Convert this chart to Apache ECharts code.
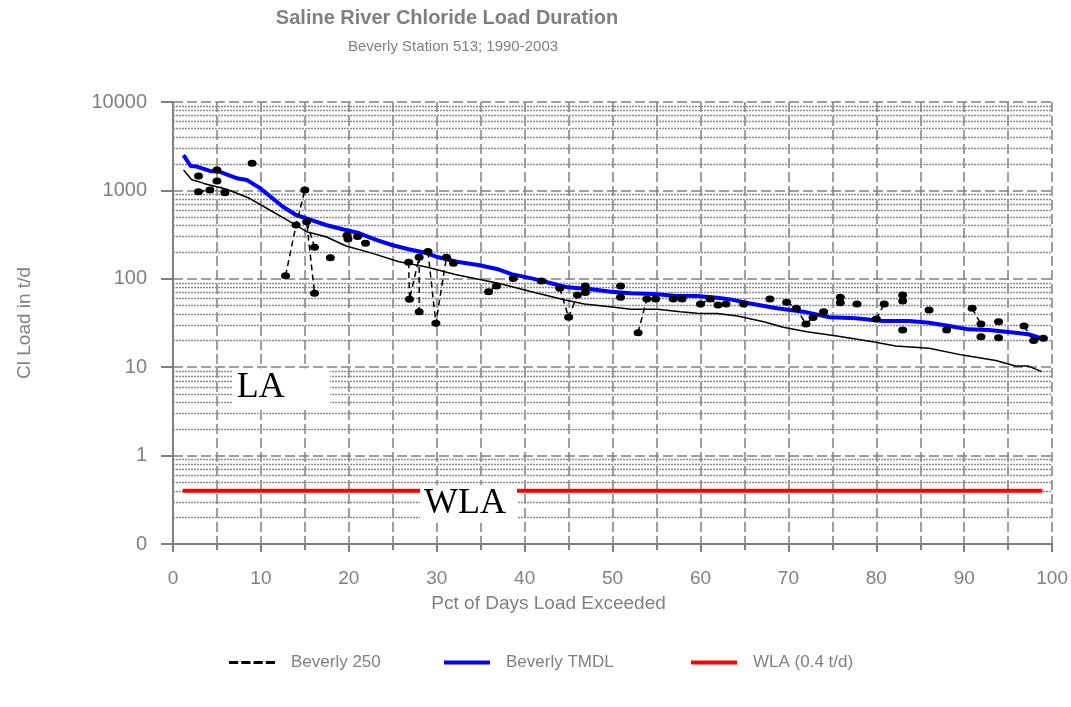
<!DOCTYPE html>
<html>
<head>
<meta charset="utf-8">
<script src="https://cdn.jsdelivr.net/npm/echarts@6/dist/echarts.min.js"></script>
<style>html,body{margin:0;padding:0;background:#fff}#c{width:1071px;height:707px}</style>
</head>
<body>
<div id="c"></div>
<script>
const titleText = 'Saline River Chloride Load Duration';
const subtitleText = 'Beverly Station 513; 1990-2003';
const xName = 'Pct of Days Load Exceeded';
const yName = 'Cl Load in t/d';
const yTickValues = [0.1, 1, 10, 100, 1000, 10000];
const yTickLabels = ['0', '1', '10', '100', '1000', '10000'];
const minorMultipliers = [2, 3, 4, 5, 6, 7, 8, 9];
const seriesNames = ['Beverly 250', 'Beverly TMDL', 'WLA (0.4 t/d)'];

// Beverly TMDL (blue)
const tmdlPct = [1.2, 2.0, 2.7, 4.2, 5.2, 6.3, 7.4, 8.4, 9.9, 11.0, 12.5, 14.0, 15.5, 17.4, 19.3, 21.2, 23.1, 24.9, 26.8, 28.7, 30.2, 32.3, 34.7, 37.0, 38.5, 40.8, 43.0, 44.9, 47.6, 49.8, 52.1, 54.7, 57.0, 59.6, 61.9, 63.4, 65.5, 68.7, 71.7, 74.7, 77.7, 80.7, 83.7, 86.0, 88.3, 90.5, 92.8, 95.8, 97.3, 98.8];
const tmdlLoad = [2510, 1890, 1860, 1660, 1640, 1490, 1360, 1310, 1060, 865, 654, 527, 471, 406, 363, 327, 275, 241, 216, 197, 175, 156, 143, 128, 113, 101, 89, 80, 76, 71.5, 68.5, 67.3, 64.4, 64, 61, 58.5, 53, 46.4, 42.5, 36.7, 35.7, 33.3, 33.3, 31.9, 29.2, 26.8, 26.4, 24.6, 23.6, 21.2];

// thin black duration curve
const trendPct = [1.2, 2.1, 3.5, 6.1, 8.7, 11.0, 13.3, 15.2, 17.4, 19.7, 22.7, 25.7, 28.7, 29.5, 32.1, 37.0, 40.8, 44.6, 46.8, 50.2, 52.1, 55.1, 57.7, 59.6, 61.9, 64.2, 67.2, 69.4, 72.1, 75.5, 79.6, 82.2, 86.0, 89.8, 93.6, 95.8, 97.3, 98.8];
const trendLoad = [1700, 1330, 1200, 1030, 814, 600, 443, 341, 299, 235, 194, 156, 137, 131, 112, 89, 71.5, 57.5, 51.9, 47.6, 45.2, 45.2, 42.5, 40.7, 40.5, 37.9, 32.7, 28.3, 25.2, 22.5, 19.4, 17.4, 16.4, 13.7, 11.9, 10.3, 10.3, 8.9];

// Beverly 250 observations (null = break in the dashed line)
const b250Pct = [
  2.9, null, 2.9, 4.2, 5.0, 5.9, null, 5.0, null, 9.0, null,
  12.8, 14.0, 15.0, null, 16.1, 15.2, 16.1, null, 17.9, null,
  19.8, 19.9, 21.0, 21.9, null,
  26.8, 26.9, 28.0, 28.0, null, 29.0, 29.9, 31.1, 31.9, null,
  35.9, 36.8, null, 38.7, null, 41.9, null,
  44.0, 45.0, 46.0, 46.9, 46.9, null,
  50.9, null, 50.9, null, 52.9, 53.9, null, 54.9, null, 56.9, 57.9, null,
  60.0, 61.1, 62.0, 62.9, null, 64.9, null, 67.9, null,
  69.8, 70.9, 72.0, 72.8, 74.0, null,
  75.9, null, 75.9, null, 77.8, null, 80.0, 80.9, null,
  83.0, null, 83.0, null, 83.0, null, 86.0, null, 88.0, null,
  90.9, 91.9, null, 91.9, null, 93.9, null, 93.9, null, 96.8, 97.9, 99.0
];
const b250Load = [
  1455, null, 968, 1010, 1280, 942, null, 1700, null, 2030, null,
  108, 406, 1010, null, 227, 443, 68.5, null, 173, null,
  310, 282, 300, 252, null,
  154, 58.6, 175, 42.5, null, 203, 31.4, 175, 150, null,
  71.5, 83, null, 101, null, 94.5, null,
  78, 36.7, 65.6, 70, 83, null,
  83, null, 61.8, null, 24.6, 59, null, 59, null, 59, 59, null,
  51.9, 59, 50.6, 52, null, 52, null, 59, null,
  54.2, 46.4, 30.8, 36.6, 42.5, null,
  61.8, null, 53.7, null, 51.9, null, 35, 51.9, null,
  65.6, null, 56, null, 26.4, null, 44.4, null, 26.4, null,
  46.4, 30.8, null, 22.1, null, 32.7, null, 21.6, null, 29.2, 20, 21.2
];

// WLA
const wlaPct = [1.1, 98.9];
const wlaLoad = [0.4, 0.4];

// text annotations (box left edge pct, vertical centre load)
const annotations = [
  { name: 'LA', pct: 6.8, load: 5.9 },
  { name: 'WLA', pct: 28.1, load: 0.284 }
];

const GREY = '#808080';
const SANS = '"Liberation Sans", Arial, sans-serif';

const pairs = (xs, ys) => xs.map((x, i) => (x == null || ys[i] == null) ? ['-', '-'] : [x, ys[i]]);

const minorVals = [];
yTickValues.slice(0, -1).forEach(d => minorMultipliers.forEach(k => minorVals.push(+(k * d).toPrecision(3))));

const chart = echarts.init(document.getElementById('c'), null, { renderer: 'canvas' });

const dashIcon = 'path://M0,0h9v3h-9z M12,0h9v3h-9z M24,0h9v3h-9z M36,0h9v3h-9z';
const solidIcon = 'path://M0,0h45v4h-45z';
const legendBase = {
  orient: 'horizontal', top: 654, itemWidth: 46, selectedMode: false,
  symbolKeepAspect: false, padding: 0,
  textStyle: { color: GREY, fontSize: 17, fontFamily: SANS, padding: [0, 0, 0, 11] }
};

chart.setOption({
  animation: false,
  backgroundColor: '#fff',
  title: [
    { text: titleText, left: 447, top: 8, textAlign: 'center', padding: 0,
      textStyle: { color: GREY, fontSize: 20, fontWeight: 'bold', fontFamily: SANS } },
    { text: subtitleText, left: 453, top: 39, textAlign: 'center', padding: 0,
      textStyle: { color: GREY, fontSize: 15, fontWeight: 'normal', fontFamily: SANS } }
  ],
  legend: [
    Object.assign({}, legendBase, { left: 229, itemHeight: 3, data: [{ name: seriesNames[0], icon: dashIcon }] }),
    Object.assign({}, legendBase, { left: 444, itemHeight: 4, data: [{ name: seriesNames[1], icon: solidIcon }] }),
    Object.assign({}, legendBase, { left: 691, itemHeight: 4, data: [{ name: seriesNames[2], icon: solidIcon }] })
  ],
  grid: { left: 173, right: 14, top: 102, bottom: 163, containLabel: false },
  xAxis: {
    type: 'value', min: 0, max: 100, interval: 10,
    name: xName, nameLocation: 'middle', nameGap: 50,
    nameTextStyle: { color: GREY, fontSize: 19, fontFamily: SANS, padding: [0, 128, 0, 0] },
    axisLine: { show: true, onZero: false, lineStyle: { color: GREY, width: 2 } },
    axisTick: { show: true, length: 8, lineStyle: { color: GREY, width: 2 } },
    minorTick: { show: true, splitNumber: 2, length: 6, lineStyle: { color: GREY, width: 2 } },
    axisLabel: { color: GREY, fontSize: 19, fontFamily: SANS, margin: 25 },
    splitLine: { show: true, lineStyle: { color: GREY, width: 1.5, type: [10, 4] } },
    minorSplitLine: { show: true, lineStyle: { color: GREY, width: 1.5, type: [10, 4] } }
  },
  yAxis: {
    type: 'log', logBase: 10, min: 0.1, max: 10000, splitNumber: 5,
    name: yName, nameLocation: 'middle', nameGap: 139,
    nameTextStyle: { color: GREY, fontSize: 19, fontFamily: SANS },
    axisLine: { show: true, lineStyle: { color: GREY, width: 2 } },
    axisTick: { show: true, length: 12, lineStyle: { color: GREY, width: 2 } },
    axisLabel: {
      color: GREY, fontSize: 20, fontFamily: SANS, margin: 26,
      formatter: v => {
        const i = yTickValues.findIndex(t => Math.abs(Math.log10(t) - Math.log10(v)) < 1e-6);
        return i >= 0 ? yTickLabels[i] : '';
      }
    },
    splitLine: { show: true, lineStyle: { color: GREY, width: 1.5, type: [10, 4] } }
  },
  series: [
    {
      name: 'Beverly duration', type: 'line', data: pairs(trendPct, trendLoad),
      showSymbol: false, symbol: 'none', z: 2,
      lineStyle: { color: '#000', width: 1.5 }, itemStyle: { color: '#000' },
      markLine: {
        silent: true, symbol: ['none', 'none'], z: 1, animation: false,
        label: { show: false },
        lineStyle: { color: '#8c8c8c', width: 1.3, type: [2, 1] },
        emphasis: { disabled: true },
        data: minorVals.map(v => ({ yAxis: v }))
      }
    },
    {
      name: seriesNames[1], type: 'line', data: pairs(tmdlPct, tmdlLoad),
      showSymbol: false, symbol: 'none', z: 3,
      lineStyle: { color: '#0000ff', width: 4 }, itemStyle: { color: '#0000ff' }
    },
    {
      name: seriesNames[0], type: 'line', data: pairs(b250Pct, b250Load),
      connectNulls: false, symbol: 'circle', symbolSize: [9, 7], showSymbol: true, z: 4,
      lineStyle: { color: '#000', width: 1.5, type: [6, 4] }, itemStyle: { color: '#000' }
    },
    {
      name: seriesNames[2], type: 'line', data: pairs(wlaPct, wlaLoad),
      showSymbol: false, symbol: 'none', z: 3,
      lineStyle: { color: '#ff0000', width: 4 }, itemStyle: { color: '#ff0000' },
      markPoint: {
        silent: true, z: 10, symbol: 'rect', symbolSize: 1,
        itemStyle: { color: 'rgba(0,0,0,0)' },
        label: {
          show: true, position: 'inside', formatter: p => p.name,
          color: '#000', fontSize: 36, fontFamily: '"Liberation Serif", "Times New Roman", serif',
          backgroundColor: '#fff', width: 89, height: 36, lineHeight: 36,
          padding: [1, 4, 1, 4], align: 'left', verticalAlign: 'middle'
        },
        data: annotations.map(a => ({ name: a.name, coord: [a.pct, a.load] }))
      }
    }
  ]
});
</script>
</body>
</html>
